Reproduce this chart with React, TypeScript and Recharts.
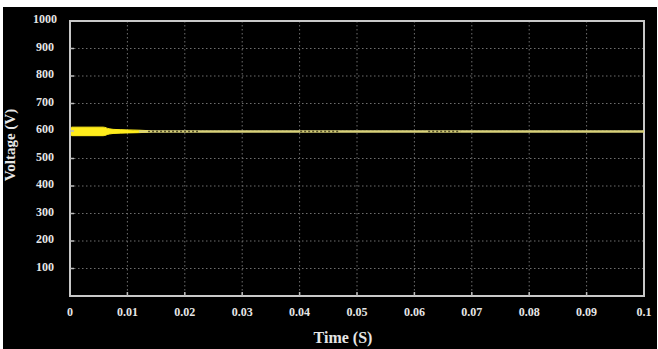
import React from 'react';
import { ComposedChart, Line, Area, XAxis, YAxis, CartesianGrid, ReferenceArea, Label } from 'recharts';

// Start-up oscillation envelope (time in s, voltage in V)
const envTime = [0.0, 0.0003, 0.0058, 0.0068, 0.0075, 0.010, 0.012, 0.014];
const envLow = [591, 583, 583, 589, 591, 593, 594, 596];
const envHigh = [605, 614, 614, 608, 606, 604, 603, 601];

// Steady DC-link voltage
const lineTime = [0.012, 0.1];
const lineVolt = [598, 598];

// Faint ripple segments
const rippleStart = [0.0136, 0.0401, 0.0624];
const rippleEnd = [0.0223, 0.047, 0.068];

const xTicks = [0, 0.01, 0.02, 0.03, 0.04, 0.05, 0.06, 0.07, 0.08, 0.09, 0.1];
const xTickLabels = ['0', '0.01', '0.02', '0.03', '0.04', '0.05', '0.06', '0.07', '0.08', '0.09', '0.1'];
const yTicks = [100, 200, 300, 400, 500, 600, 700, 800, 900, 1000];

const envData = envTime.map((t, i) => ({ t, range: [envLow[i], envHigh[i]] }));
const lineData = lineTime.map((t, i) => ({ t, v: lineVolt[i] }));
const rippleData = rippleStart.map((s, i) => [
  { t: s, v: lineVolt[0] },
  { t: rippleEnd[i], v: lineVolt[0] },
]);

const FONT = '"Liberation Serif", "Times New Roman", serif';
const TXT = '#e6e6e6';

const XTick = (props: any) => {
  const { x, y, payload } = props;
  const idx = xTicks.indexOf(payload.value);
  return (
    <g>
      {idx > 0 && idx < xTicks.length - 1 && (
        <line x1={x} x2={x} y1={y - 4} y2={y} stroke="#bbbbbb" strokeWidth={1.5} />
      )}
      <text x={x} y={y + 20} textAnchor="middle" fill={TXT} fontFamily={FONT} fontWeight="bold" fontSize={12}>
        {idx >= 0 ? xTickLabels[idx] : payload.value}
      </text>
    </g>
  );
};

const YTick = (props: any) => {
  const { x, y, payload } = props;
  return (
    <g>
      {payload.value < 1000 && (
        <line x1={x} x2={x + 4} y1={y} y2={y} stroke="#bbbbbb" strokeWidth={1.5} />
      )}
      <text x={45} y={y - 2} dominantBaseline="central" textAnchor="middle" fill={TXT} fontFamily={FONT} fontWeight="bold" fontSize={12}>
        {payload.value}
      </text>
    </g>
  );
};

export default function App() {
  return (
    <div style={{ position: 'absolute', left: 0, top: 0, width: 658, height: 349, background: '#ffffff' }}>
      <div style={{ position: 'absolute', left: 3, top: 7, width: 654, height: 342, background: '#000000' }} />
      <div style={{ position: 'absolute', left: 0, top: 0 }}>
        <ComposedChart width={658} height={349} margin={{ top: 21, right: 14, bottom: 0, left: 0 }}>
          <CartesianGrid
            stroke="#6e6e6e"
            strokeDasharray="1.5 2.5"
            strokeWidth={1}
            horizontalValues={[100, 200, 300, 400, 500, 600, 700, 800, 900]}
            verticalValues={[0.01, 0.02, 0.03, 0.04, 0.05, 0.06, 0.07, 0.08, 0.09]}
          />
          <XAxis
            type="number"
            dataKey="t"
            domain={[0, 0.1]}
            ticks={xTicks}
            allowDataOverflow
            height={53}
            axisLine={false}
            tickLine={false}
            tickSize={0}
            tickMargin={0}
            tick={<XTick />}
            interval={0}
          >
            <Label
              content={() => (
                <text x={343} y={343} textAnchor="middle" fill={TXT} fontFamily={FONT} fontWeight="bold" fontSize={16}>
                  Time (S)
                </text>
              )}
            />
          </XAxis>
          <YAxis
            type="number"
            domain={[0, 1000]}
            ticks={yTicks}
            allowDataOverflow
            width={70}
            axisLine={false}
            tickLine={false}
            tickSize={0}
            tickMargin={0}
            tick={<YTick />}
            interval={0}
          >
            <Label
              content={() => (
                <text
                  x={10}
                  y={145}
                  transform="rotate(-90 10 145)"
                  textAnchor="middle"
                  dominantBaseline="central"
                  fill={TXT}
                  fontFamily={FONT}
                  fontWeight="bold"
                  fontSize={15}
                >
                  Voltage (V)
                </text>
              )}
            />
          </YAxis>
          <Area
            data={envData}
            dataKey="range"
            type="monotone"
            stroke="#ffec1c"
            strokeWidth={1}
            fill="#ffec1c"
            fillOpacity={1}
            isAnimationActive={false}
          />
          <Line
            data={lineData}
            dataKey="v"
            stroke="#d9d27a"
            strokeWidth={2.5}
            dot={false}
            isAnimationActive={false}
          />
          {rippleData.map((d, i) => (
            <Line
              key={i}
              data={d}
              dataKey="v"
              stroke="#55502a"
              strokeWidth={1.5}
              strokeDasharray="2 2"
              dot={false}
              isAnimationActive={false}
            />
          ))}
          <ReferenceArea x1={0} x2={0.1} y1={0} y2={1000} fill="none" stroke="#c8c8c8" strokeWidth={2} ifOverflow="visible" />
        </ComposedChart>
      </div>
    </div>
  );
}
